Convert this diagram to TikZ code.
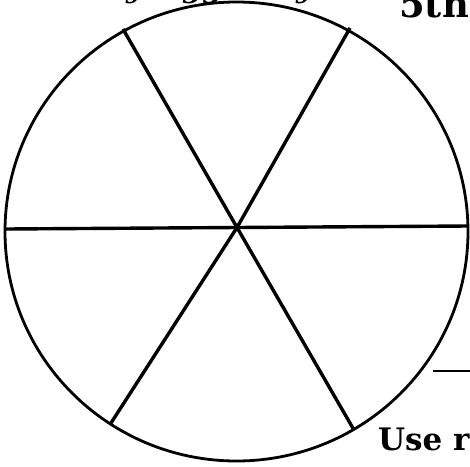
\documentclass[tikz,border=0pt]{standalone}
\usepackage{fontspec}
\newfontfamily\labelfont{DejaVu Serif}
\begin{document}
\begin{tikzpicture}[x=1pt,y=-1pt,
  rim/.style={line width=2.8pt},
  spoke/.style={line width=3.4pt},
  lbl/.style={font=\labelfont\bfseries\fontsize{31}{31}\selectfont, inner sep=0pt, anchor=base west},
  big/.style={font=\labelfont\bfseries\fontsize{37}{37}\selectfont, inner sep=0pt, anchor=base west},
  lblit/.style={font=\labelfont\bfseries\itshape\fontsize{29}{29}\selectfont, inner sep=0pt, anchor=base west}]
\useasboundingbox (0,0) rectangle (470,466);
\coordinate (c) at (236.5,231.5);
\coordinate (hub) at (237,227.5);
\coordinate (e1) at (6,229);
\coordinate (e2) at (468,226);
\coordinate (e3) at (123,29);
\coordinate (e4) at (350,28);
\coordinate (e5) at (111,423);
\coordinate (e6) at (354,430);
\coordinate (r1) at (433,371);
\coordinate (r2) at (472,371);
\draw[rim] (c) ellipse [x radius=231.5, y radius=229.5];
\foreach \e in {e1,e2,e3,e4,e5,e6} \draw[spoke] (hub) -- (\e);
\draw[rim] (r1) -- (r2);
\node[big] (fifth) at (399,17) {5th};
\node[lbl] (use) at (378,450) {Use r};
\node[lblit] (d1) at (126,-3) {y};
\node[lblit] (d2) at (182,-3) {gg};
\node[lblit] (d3) at (296,-3) {y};
\end{tikzpicture}
\end{document}
